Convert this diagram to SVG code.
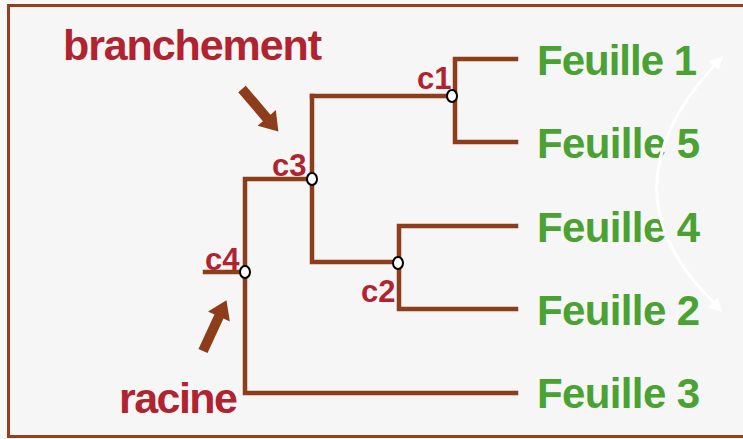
<svg xmlns="http://www.w3.org/2000/svg" width="743" height="439" viewBox="0 0 743 439">
<defs>
<style>
.br{fill:none;stroke:#8e3d1b;stroke-width:4.5;stroke-linecap:square}
.nd{fill:#fff;stroke:#000;stroke-width:2}
.lbl{font-family:"Liberation Sans",Arial,sans-serif;font-weight:bold;fill:#b0232f}
.leaf{font-family:"Liberation Sans",Arial,sans-serif;font-weight:bold;font-size:42px;fill:#4aa232}
.big{font-size:43px}
.cl{font-size:31px}
.arr{fill:#8e3d1b}
</style>
<path id="fat" d="M0,-5 L38,-5 L38,-12 L56,0 L38,12 L38,5 L0,5 z"/>
</defs>
<rect width="743" height="439" fill="#f8f8f8"/>
<rect x="8.5" y="5.5" width="750" height="431" fill="#f6f6f6" stroke="#963f1f" stroke-width="3"/>

<g id="connectors">
<path class="br" d="M312 96 H452 M455 59 V142 M455 59 H516 M455 142 H516"/>
<path class="br" d="M312 96 V262 H396 M399 226 V309 M399 226 H516 M399 309 H516"/>
<path class="br" d="M245 179 H310 M245 179 V393 H516 M205 272 H243"/>
</g>

<g id="c1"><ellipse class="nd" cx="452" cy="96" rx="5" ry="6"/><text class="lbl cl" x="417" y="89">c1</text></g>
<g id="c3"><ellipse class="nd" cx="312" cy="179" rx="5" ry="6"/><text class="lbl cl" x="272" y="176">c3</text></g>
<g id="c2"><ellipse class="nd" cx="398" cy="263" rx="5" ry="6"/><text class="lbl cl" x="361" y="302">c2</text></g>
<g id="c4"><ellipse class="nd" cx="245" cy="272" rx="5" ry="6"/><text class="lbl cl" x="205" y="270">c4</text></g>

<g id="leaf1"><text class="leaf" x="537" y="75" textLength="160">Feuille 1</text></g>
<g id="leaf5"><text class="leaf" x="537" y="158" textLength="163">Feuille 5</text></g>
<g id="leaf4"><text class="leaf" x="537" y="242" textLength="163">Feuille 4</text></g>
<g id="leaf2"><text class="leaf" x="537" y="325" textLength="163">Feuille 2</text></g>
<g id="leaf3"><text class="leaf" x="537" y="408" textLength="163">Feuille 3</text></g>

<g id="branchement">
<text class="lbl big" x="63" y="60" textLength="259">branchement</text>
<use href="#fat" class="arr" transform="translate(242 89) rotate(49.5)"/>
</g>
<g id="racine">
<text class="lbl big" x="119" y="413" textLength="119">racine</text>
<use href="#fat" class="arr" transform="translate(203 351) rotate(-65.2)"/>
</g>

<g id="swap">
<path d="M714 66 Q600 190 713 302" fill="none" stroke="#fff" stroke-width="3"/>
<polygon points="723,56 718.6,70.6 708.6,61.2" fill="#fff"/>
<polygon points="722,312 707.8,307.2 717.6,297.6" fill="#fff"/>
</g>
</svg>
